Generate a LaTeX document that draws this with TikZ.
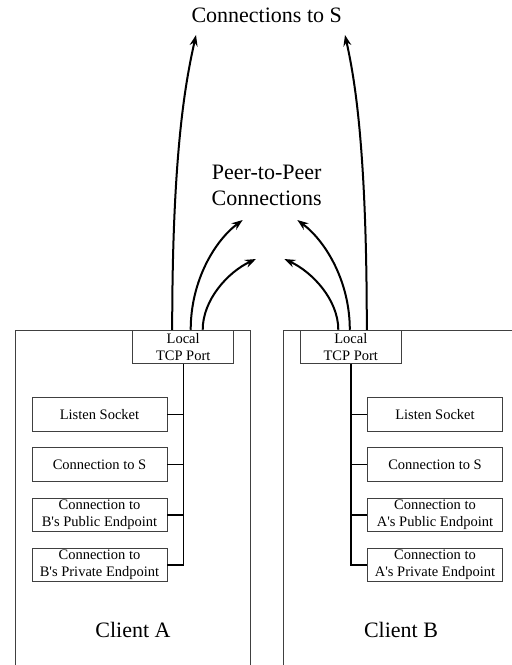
\documentclass[tikz,border=0pt]{standalone}
\usepackage{fontspec}
\setmainfont{Liberation Serif}
\usepackage{tikz}
\usetikzlibrary{arrows.meta,calc}

\tikzset{
  frame/.style={draw=black!75, line width=0.9pt, anchor=north west, minimum width=235pt, minimum height=345pt, inner sep=0pt},
  sockbox/.style={draw=black!75, line width=0.9pt, minimum width=135pt, minimum height=33.5pt, inner sep=1pt, align=center, font=\fontsize{14.5}{17}\selectfont},
  portbox/.style={sockbox, minimum width=101pt, minimum height=33pt, fill=white},
  bigtext/.style={align=center, font=\fontsize{22}{26}\selectfont},
  tree/.style={draw=black, line width=1.4pt},
  link/.style={draw=black, line width=2pt, -{Stealth[length=11pt,width=8pt]}}
}

\begin{document}
\begin{tikzpicture}[x=1pt,y=-1pt]
  \useasboundingbox (0,0) rectangle (512,665);

  % labels at the top
  \draw (266.7,15) node[bigtext] (toS) {Connections to S};
  \draw (266.7,185) node[bigtext] (p2p) {Peer-to-Peer\\Connections};

  % client frames
  \draw (15,330) node[frame] (frameA) {};
  \draw (283.3,330) node[frame, minimum width=232pt] (frameB) {};
  \draw (133,630) node[bigtext] (clientA) {Client A};
  \draw (401,630) node[bigtext] (clientB) {Client B};

  % client A
  \draw (183.2,346.7) node[portbox] (portA) {Local\\TCP Port};
  \draw (99.5,414.5) node[sockbox] (listenA) {Listen Socket};
  \draw (99.5,464.5) node[sockbox] (serverA) {Connection to S};
  \draw (99.5,515) node[sockbox] (publicA) {Connection to\\B\textquotesingle s Public Endpoint};
  \draw (99.5,565) node[sockbox] (privateA) {Connection to\\B\textquotesingle s Private Endpoint};

  % client B
  \draw (350.8,346.7) node[portbox] (portB) {Local\\TCP Port};
  \draw (435,414.5) node[sockbox] (listenB) {Listen Socket};
  \draw (435,464.5) node[sockbox] (serverB) {Connection to S};
  \draw (435,515) node[sockbox] (publicB) {Connection to\\A\textquotesingle s Public Endpoint};
  \draw (435,565) node[sockbox] (privateB) {Connection to\\A\textquotesingle s Private Endpoint};

  % sockets to port
  \path[tree] (portA.south) |- (privateA.east);
  \path[tree] (listenA.east) -- (listenA.east -| portA.south);
  \path[tree] (serverA.east) -- (serverA.east -| portA.south);
  \path[tree] (publicA.east) -- (publicA.east -| portA.south);
  \path[tree] (portB.south) |- (privateB.west);
  \path[tree] (listenB.west) -- (listenB.west -| portB.south);
  \path[tree] (serverB.west) -- (serverB.west -| portB.south);
  \path[tree] (publicB.west) -- (publicB.west -| portB.south);

  % ends of the connections
  \coordinate (sA) at ($(portA.north)+(-11,0)$);
  \coordinate (pA1) at ($(portA.north)+(7.5,0)$);
  \coordinate (pA2) at ($(portA.north)+(19.5,0)$);
  \coordinate (sB) at ($(portB.north)+(16,0)$);
  \coordinate (pB1) at ($(portB.north)+(-1,0)$);
  \coordinate (pB2) at ($(portB.north)+(-12.5,0)$);
  \coordinate (tipSA) at (196,35);
  \coordinate (tipSB) at (345,35);
  \coordinate (tipA1) at (242.7,220);
  \coordinate (tipA2) at (256,259);
  \coordinate (tipB1) at (297.3,220);
  \coordinate (tipB2) at (284.3,259);

  \path[link] (sA) .. controls ($(sA)+(0,-180)$) and ($(tipSA)+(-10,45)$) .. (tipSA);
  \path[link] (sB) .. controls ($(sB)+(0,-180)$) and ($(tipSB)+(10,45)$) .. (tipSB);
  \path[link] (pA1) .. controls ($(pA1)+(0,-50)$) and ($(tipA1)+(-27,20)$) .. (tipA1);
  \path[link] (pA2) .. controls ($(pA2)+(0,-30)$) and ($(tipA2)+(-28,13)$) .. (tipA2);
  \path[link] (pB1) .. controls ($(pB1)+(0,-50)$) and ($(tipB1)+(27,20)$) .. (tipB1);
  \path[link] (pB2) .. controls ($(pB2)+(0,-30)$) and ($(tipB2)+(28,13)$) .. (tipB2);

\end{tikzpicture}
\end{document}
